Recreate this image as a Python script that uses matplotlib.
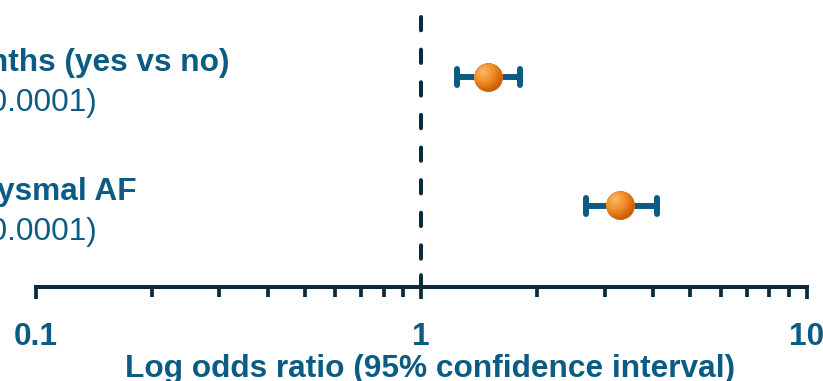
import numpy as np
import matplotlib
matplotlib.use("Agg")
import matplotlib.pyplot as plt
from matplotlib import transforms
from matplotlib.markers import MarkerStyle
from matplotlib.offsetbox import OffsetImage, AnnotationBbox
from matplotlib.ticker import LogLocator, NullFormatter

# Odds ratios with 95% confidence intervals
factors = ["Cardioversion in prior 12 months (yes vs no)", "Paroxysmal AF"]
p_values = ["(p<0.0001)", "(p<0.0001)"]
odds_ratio = [1.50, 3.30]
ci_low = [1.24, 2.68]
ci_high = [1.81, 4.10]
tick_values = [0.1, 1, 10]
tick_labels = ["0.1", "1", "10"]
x_label = "Log odds ratio (95% confidence interval)"

TEAL = "#0b5b84"
NAVY = "#0b2a3b"
FAMILY = ["Liberation Sans", "DejaVu Sans"]
FS = 22.8

W, H = 823, 381
fig = plt.figure(figsize=(W / 100, H / 100), dpi=100)
ax = fig.add_axes([35.5 / W, (H - 287) / H, 771 / W, 287 / H])
ax.set_facecolor("none")
ax.set_xscale("log")
ax.set_xlim(0.1, 10)
ax.set_ylim(1.628, -0.597)

for side in ("left", "top", "right"):
    ax.spines[side].set_visible(False)
ax.spines["bottom"].set_linewidth(2.9)
ax.spines["bottom"].set_color(NAVY)
ax.set_yticks([])

# x axis ticks and labels
ax.set_xticks(tick_values, tick_labels)
ax.xaxis.set_minor_locator(LogLocator(base=10, subs=np.arange(2, 10)))
ax.xaxis.set_minor_formatter(NullFormatter())
ax.tick_params(axis="x", which="major", direction="out", length=8.6, width=2.7,
               color=NAVY, pad=16.6, labelsize=FS, labelcolor=TEAL)
ax.tick_params(axis="x", which="minor", direction="out", length=7.2, width=2.7,
               color=NAVY)
for lbl in ax.get_xticklabels():
    lbl.set_fontweight("bold")
    lbl.set_family(FAMILY)

ax.set_xlabel(x_label, fontsize=FS, fontweight="bold", color=TEAL,
              family=FAMILY, labelpad=1.5)
ax.xaxis.label.set_x(0.5117)

xaxis_tf = ax.get_xaxis_transform()
# reference line at OR = 1, crossing the axis with a short upward tick
ax.plot([1, 1], [0, 12 / 287], transform=xaxis_tf, color=NAVY, lw=2.7,
        solid_capstyle="round", clip_on=False, zorder=2)
ax.plot([1, 1], [(287 - 17) / 287, 0], transform=xaxis_tf, color=NAVY, lw=2.9,
        linestyle=(0, (3.3, 4.8)), dash_capstyle="round", clip_on=False, zorder=2)

# confidence intervals
y = np.arange(len(factors))
est = np.array(odds_ratio)
err = [est - np.array(ci_low), np.array(ci_high) - est]
eb = ax.errorbar(est, y, xerr=err, fmt="none", ecolor=TEAL, elinewidth=4.3,
                 capsize=6, capthick=4.3, zorder=3)
for cap in eb[1]:
    cap.set_marker(MarkerStyle("|", capstyle="round"))
    cap.set_markersize(11)


def sphere_rgba(n=112):
    yy, xx = np.mgrid[0:n, 0:n]
    c = (n - 1) / 2
    u = (xx - c) / (n / 2)
    v = (yy - c) / (n / 2)
    r = np.hypot(u, v)
    alpha = np.clip((1 - r) * n / 2 + 0.5, 0, 1)
    d = np.hypot(u + 0.35, v + 0.4)
    t = np.clip(d / 1.35, 0, 1)[..., None]
    light = np.array([0.98, 0.72, 0.42])
    mid = np.array([0.95, 0.56, 0.17])
    dark = np.array([0.80, 0.37, 0.03])
    k = 0.5
    col = np.where(t < k, light + (mid - light) * (t / k),
                   mid + (dark - mid) * ((t - k) / (1 - k)))
    rim = np.clip((r - 0.9) / 0.1, 0, 1)[..., None]
    col = col * (1 - rim * 0.6) + np.array([0.94, 0.52, 0.10]) * rim * 0.6
    img = np.dstack([col, alpha])
    return np.clip(img, 0, 1)


ball = sphere_rgba()
ball_zoom = 29 / ball.shape[0] * 72 / fig.dpi
for xv, yv in zip(est, y):
    ab = AnnotationBbox(OffsetImage(ball, zoom=ball_zoom), (xv, yv),
                        frameon=False, pad=0, zorder=4)
    ax.add_artist(ab)

# factor names (bold) and p values (regular) to the left
row_tf = transforms.blended_transform_factory(fig.transFigure, ax.transData)
name_right = [230, 137]
p_right = [97, 97]
for i, (name, p) in enumerate(zip(factors, p_values)):
    t1 = transforms.offset_copy(row_tf, fig=fig, x=0, y=6, units="dots")
    t2 = transforms.offset_copy(row_tf, fig=fig, x=0, y=-33.7, units="dots")
    ax.text(name_right[i] / W, y[i], name, transform=t1, ha="right",
            va="baseline", fontsize=FS, fontweight="bold", color=TEAL,
            family=FAMILY)
    ax.text(p_right[i] / W, y[i], p, transform=t2, ha="right",
            va="baseline", fontsize=FS, color=TEAL, family=FAMILY)

fig.savefig("out.png", dpi=100)
